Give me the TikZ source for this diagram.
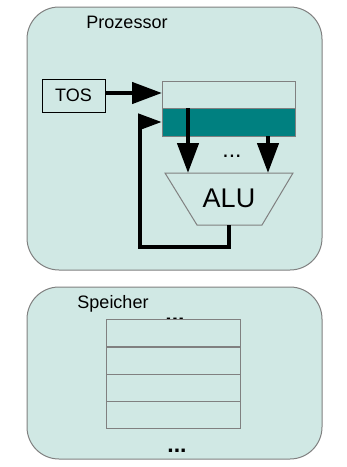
\documentclass[tikz,border=0pt]{standalone}
\usepackage{fontspec}
\setmainfont{Liberation Sans}
\usetikzlibrary{arrows.meta}
\definecolor{bgfill}{RGB}{208,232,228}
\definecolor{teal}{RGB}{0,128,128}
\definecolor{edge}{RGB}{128,128,128}
\begin{document}
\begin{tikzpicture}[x=1pt,y=-1pt,
  panel/.style={draw=edge,fill=bgfill,line width=1pt,rounded corners=32pt},
  cell/.style={draw=edge,fill=bgfill,line width=1pt},
  lbl/.style={inner sep=0pt,font=\fontsize{18}{20}\selectfont},
  dotlbl/.style={inner sep=0pt,anchor=base,font=\fontsize{23}{25}\selectfont},
  flow/.style={line width=4.5pt,-{Triangle[length=30pt,width=21pt]}},
  flowb/.style={line width=4.5pt,-{Triangle[length=24pt,width=16pt]}}]
\useasboundingbox (0,0) rectangle (347,467);
% processor
\draw[panel] (27,7) rectangle (322,270);
\node[lbl] (proz) at (127,22) {Prozessor};
\draw[cell,draw=black] (42,79) rectangle (105,112);
\node[lbl] (tos) at (73.5,95.5) {TOS};
\coordinate (tosR) at (105,93);
\draw[cell] (162,81) rectangle (295,108);
\draw[cell,fill=teal] (162,108) rectangle (295,136);
\coordinate (regL) at (162,93);
\coordinate (tealL) at (162,122);
\draw[cell] (165,173) -- (293,173) -- (262,225) -- (197,225) -- cycle;
\node[inner sep=0pt,font=\fontsize{27}{30}\selectfont] (alu) at (229,198) {ALU};
\node[dotlbl] (dots1) at (232,157) {...};
\coordinate (in1a) at (188,108);
\coordinate (in1b) at (188,173);
\coordinate (in2a) at (268,136);
\coordinate (in2b) at (268,173);
\coordinate (aluout) at (229,225);
\draw[flow] (tosR) -- (regL);
\draw[flow] (in1a) -- (in1b);
\draw[flow] (in2a) -- (in2b);
\draw[flowb] (aluout) -- (229,247) -- (140,247) -- (140,122) -- (tealL);
% memory
\draw[panel] (27,287) rectangle (322,459);
\node[lbl] (sp) at (113,304) {Speicher};
\node[dotlbl,font=\bfseries\fontsize{23}{25}\selectfont] (dots2) at (175,321) {...};
\foreach \y in {319,347,374,401}{
  \draw[cell] (106,\y) rectangle (240,\y+27);
}
\node[dotlbl,font=\bfseries\fontsize{23}{25}\selectfont] (dots3) at (177,452) {...};
\end{tikzpicture}
\end{document}
